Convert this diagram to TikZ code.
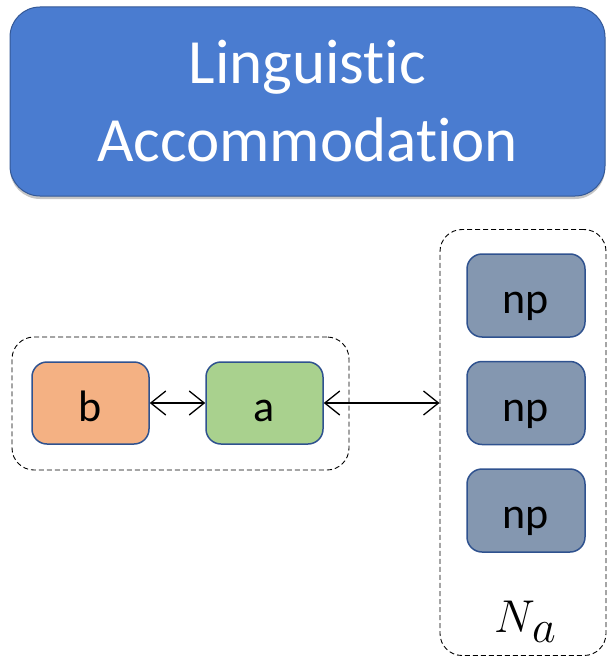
\documentclass[tikz,border=0pt]{standalone}
\usepackage{fix-cm}
\usepackage{fontspec}
\setmainfont[Ligatures=NoCommon]{Carlito}
\usepackage{tikz}
\usetikzlibrary{arrows.meta,shadows}

\definecolor{titleblue}{RGB}{74,124,208}
\definecolor{titleedge}{RGB}{52,88,150}
\definecolor{boxedge}{RGB}{47,82,143}
\definecolor{bfill}{RGB}{244,177,131}
\definecolor{afill}{RGB}{169,209,142}
\definecolor{npfill}{RGB}{132,151,176}

\tikzset{
  agent/.style={draw=boxedge, line width=1.5pt, rounded corners=15pt,
    minimum width=117pt, minimum height=82pt, inner sep=0pt,
    text height=36pt, text depth=0pt,
    font=\fontsize{44}{50}\selectfont},
  group/.style={draw=black, dash pattern=on 5pt off 3pt, line width=0.9pt,
    rounded corners=22pt, inner sep=0pt},
  link/.style={line width=1.3pt,
    {Straight Barb[length=15pt,width=24pt]}-{Straight Barb[length=15pt,width=24pt]}}
}

\begin{document}
\begin{tikzpicture}[x=1pt, y=-1pt]

\useasboundingbox (0,0) rectangle (610,658);

% title
\node[fill=titleblue, draw=titleedge, line width=1pt, rounded corners=30pt,
  minimum width=595pt, minimum height=189pt, inner sep=0pt,
  drop shadow={shadow xshift=0pt, shadow yshift=-3pt, opacity=0.45},
  text=white, align=center, font=\fontsize{63}{78}\selectfont]
  (title) at (307.5,101.5) {Linguistic\\Accommodation};

% the pair
\node[group, minimum width=337pt, minimum height=133pt] (pair) at (180.5,403.5) {};
\node[agent, fill=bfill] (b) at (90.5,403) {b};
\node[agent, fill=afill] (a) at (264.5,403) {a};

% neighbours of a
\node[group, minimum width=166pt, minimum height=426pt] (hood) at (523,442.5) {};
\node[agent, fill=npfill, minimum width=118pt, minimum height=83pt] (np1) at (526,295.5) {np};
\node[agent, fill=npfill, minimum width=118pt, minimum height=83pt] (np2) at (526,403) {np};
\node[agent, fill=npfill, minimum width=118pt, minimum height=83pt] (np3) at (526,510.5) {np};
\node[anchor=base west, inner sep=0pt, font=\fontsize{46}{50}\selectfont]
  (na) at (494,632) {$N\kern-3pt\lower10pt\hbox{$a$}$};

\draw[link] (b) -- (a);
\draw[link] (a.east) -- (a.east -| hood.west);

\end{tikzpicture}
\end{document}
